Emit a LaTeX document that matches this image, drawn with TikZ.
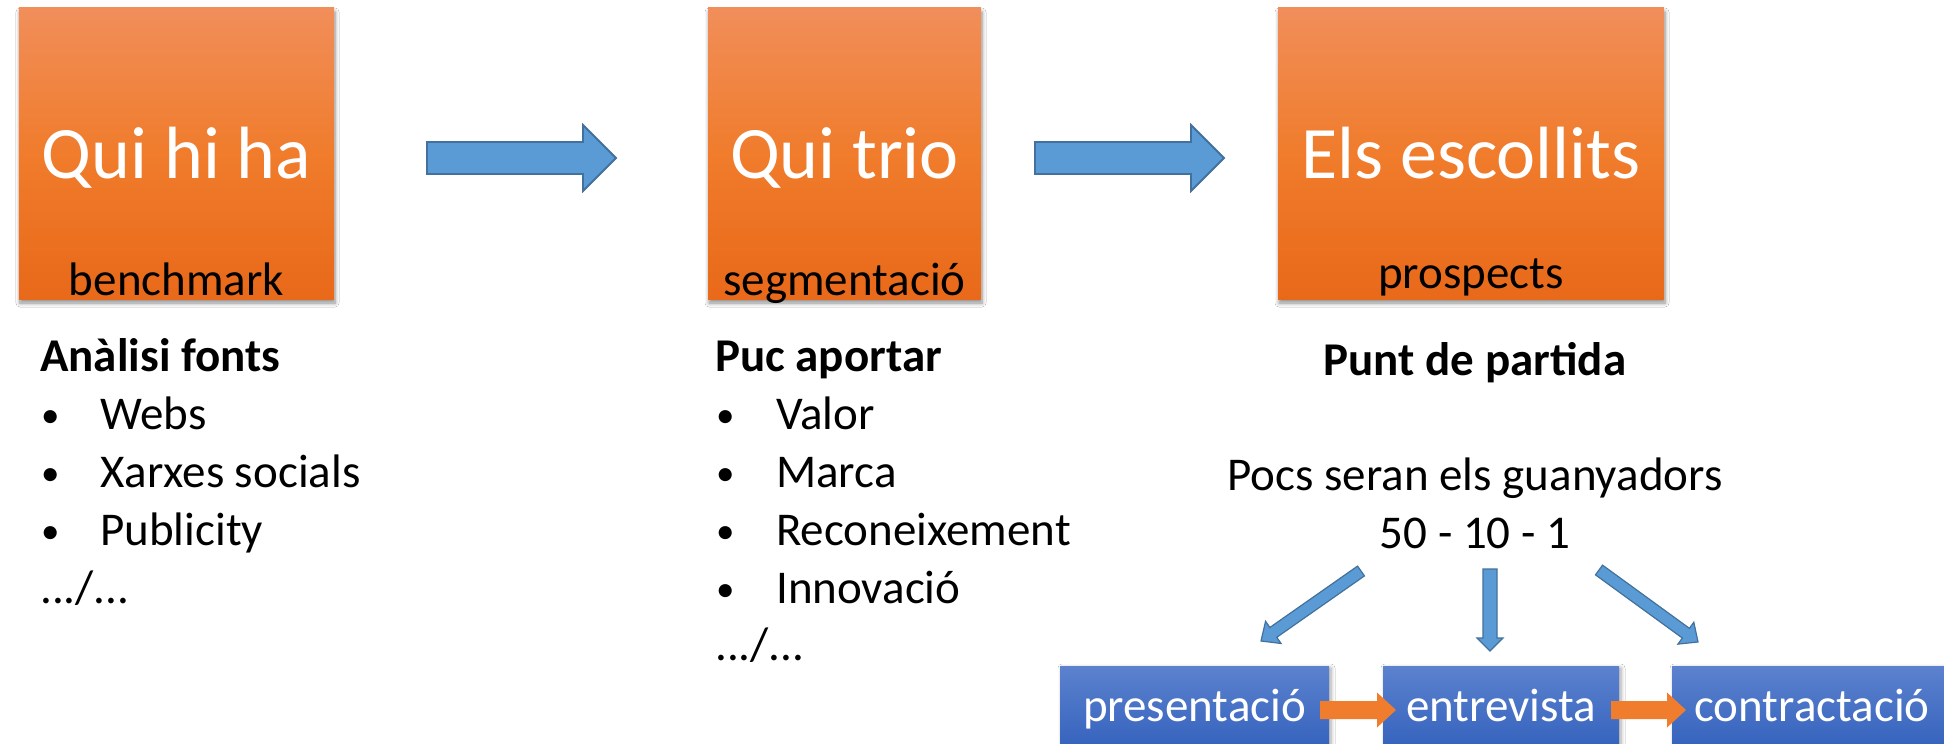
\documentclass[tikz,border=0pt]{standalone}
\usepackage{fontspec}
\setmainfont{Carlito}
\usetikzlibrary{calc,shadows.blur}
\definecolor{oTop}{RGB}{241,142,90}
\definecolor{oMid}{RGB}{240,124,44}
\definecolor{oBot}{RGB}{232,105,25}
\definecolor{bTop}{RGB}{92,130,206}
\definecolor{bBot}{RGB}{50,96,188}
\definecolor{arrFill}{RGB}{91,155,213}
\definecolor{arrLine}{RGB}{65,113,156}
\definecolor{smallArr}{RGB}{240,125,45}
\newcommand{\blockarrow}[6]{%
  \coordinate (bahead) at ($(#3)!#6!(#2)$);
  \path[#1] ($(#2)!#4!90:(#3)$) -- ($(bahead)!#4!90:(#3)$) -- ($(bahead)!#5!90:(#3)$)
    -- (#3) -- ($(bahead)!#5!-90:(#3)$) -- ($(bahead)!#4!-90:(#3)$) -- ($(#2)!#4!-90:(#3)$) -- cycle;}
\tikzset{
  obox/.style={rectangle, inner sep=0pt, top color=oTop, bottom color=oBot, middle color=oMid,
    blur shadow={shadow xshift=1bp, shadow yshift=-4bp, shadow blur radius=4bp, shadow blur steps=6, shadow opacity=45}},
  bbox/.style={rectangle, inner sep=0pt, top color=bTop, bottom color=bBot, text=white,
    font=\fontsize{47bp}{56bp}\selectfont, text height=33bp, text depth=11bp,
    blur shadow={shadow xshift=2bp, shadow yshift=-2bp, shadow blur radius=4bp, shadow blur steps=6, shadow opacity=35}},
  titletxt/.style={text=white, font=\fontsize{74bp}{80bp}\selectfont, anchor=base, inner sep=0pt},
  subtxt/.style={text=black, font=\fontsize{47bp}{56bp}\selectfont, anchor=base, inner sep=0pt},
  bodytxt/.style={text=black, font=\fontsize{47bp}{56bp}\selectfont, anchor=base west, inner sep=0pt},
  bullettxt/.style={text=black, font=\fontsize{37bp}{44bp}\selectfont, anchor=base west, inner sep=0pt},
  headtxt/.style={bodytxt, font=\fontsize{47bp}{56bp}\selectfont\bfseries},
  ctrtxt/.style={text=black, font=\fontsize{47bp}{56bp}\selectfont, anchor=base, inner sep=0pt},
  bluearrow/.style={fill=arrFill, draw=arrLine, line width=1.8bp, line join=miter},
  orangearrow/.style={fill=smallArr},
}
\begin{document}
\begin{tikzpicture}[x=1bp,y=-1bp]
\useasboundingbox (0,0) rectangle (1944,744);
\clip (0,0) rectangle (1944,744);
\fill[white] (0,0) rectangle (1944,744);

% orange boxes
\node[obox, minimum width=315bp, minimum height=291bp] (b1) at (176.5,153.5) {};
\node[obox, minimum width=273bp, minimum height=291bp] (b2) at (844.5,153.5) {};
\node[obox, minimum width=386bp, minimum height=291bp] (b3) at (1471,153.5) {};
\node[titletxt] (t1) at (176.5,178) {Qui hi ha};
\node[titletxt] (t2) at (844.5,178) {Qui trio};
\node[titletxt] (t3) at (1471,178) {Els escollits};
\node[subtxt] (s1) at (176.5,295) {benchmark};
\node[subtxt] (s2) at (844.5,295) {segmentació};
\node[subtxt] (s3) at (1471,288) {prospects};

% big arrows
\coordinate (a1s) at (427,158); \coordinate (a1e) at (616,158);
\coordinate (a2s) at (1035,158); \coordinate (a2e) at (1224,158);
\blockarrow{bluearrow}{a1s}{a1e}{16bp}{33bp}{33bp}
\blockarrow{bluearrow}{a2s}{a2e}{16bp}{33bp}{33bp}

% left list
\node[headtxt] (l1h) at (40,371) {Anàlisi fonts};
\node[bullettxt] (l1b1) at (41,427) {•};
\node[bodytxt] (l1i1) at (100,429) {Webs};
\node[bullettxt] (l1b2) at (41,485) {•};
\node[bodytxt] (l1i2) at (100,487) {Xarxes socials};
\node[bullettxt] (l1b3) at (41,543) {•};
\node[bodytxt] (l1i3) at (100,545) {Publicity};
\node[bodytxt] (l1e) at (40,603) {.../...};

% middle list
\node[headtxt] (l2h) at (715,371) {Puc aportar};
\node[bullettxt] (l2b1) at (716,427) {•};
\node[bodytxt] (l2i1) at (776,429) {Valor};
\node[bullettxt] (l2b2) at (716,485) {•};
\node[bodytxt] (l2i2) at (776,487) {Marca};
\node[bullettxt] (l2b3) at (716,543) {•};
\node[bodytxt] (l2i3) at (776,545) {Reconeixement};
\node[bullettxt] (l2b4) at (716,601) {•};
\node[bodytxt] (l2i4) at (776,603) {Innovació};
\node[bodytxt] (l2e) at (715,660) {.../...};

% right texts
\node[ctrtxt, font=\fontsize{47bp}{56bp}\selectfont\bfseries] (p1) at (1475,375) {Punt de partida};
\node[ctrtxt] (p2) at (1475,490) {Pocs seran els guanyadors};
\node[ctrtxt] (p3) at (1475,548) {50 - 10 - 1};

% blue boxes
\node[bbox, minimum width=269bp, minimum height=88bp] (pres) at (1194.5,710) {presentació};
\node[bbox, minimum width=236bp, minimum height=88bp] (entr) at (1501,710) {entrevista};
\node[bbox, minimum width=280bp, minimum height=88bp] (contr) at (1812,710) {contractació};

% small orange arrows
\coordinate (o1s) at (1320,710); \coordinate (o1e) at (1396,710);
\coordinate (o2s) at (1611,710); \coordinate (o2e) at (1686,710);
\blockarrow{orangearrow}{o1s}{o1e}{9bp}{17.5bp}{19bp}
\blockarrow{orangearrow}{o2s}{o2e}{9bp}{17.5bp}{19bp}

% fan arrows
\coordinate (d1s) at (1361,571); \coordinate (d1e) at (1261,641);
\coordinate (d2s) at (1490,569); \coordinate (d2e) at (1490,651);
\coordinate (d3s) at (1599,570); \coordinate (d3e) at (1698,642);
\blockarrow{bluearrow, line width=1.2bp}{d1s}{d1e}{6bp}{13.5bp}{15bp}
\blockarrow{bluearrow, line width=1.2bp}{d2s}{d2e}{7bp}{13bp}{13bp}
\blockarrow{bluearrow, line width=1.2bp}{d3s}{d3e}{6bp}{13.5bp}{15bp}
\end{tikzpicture}
\end{document}
